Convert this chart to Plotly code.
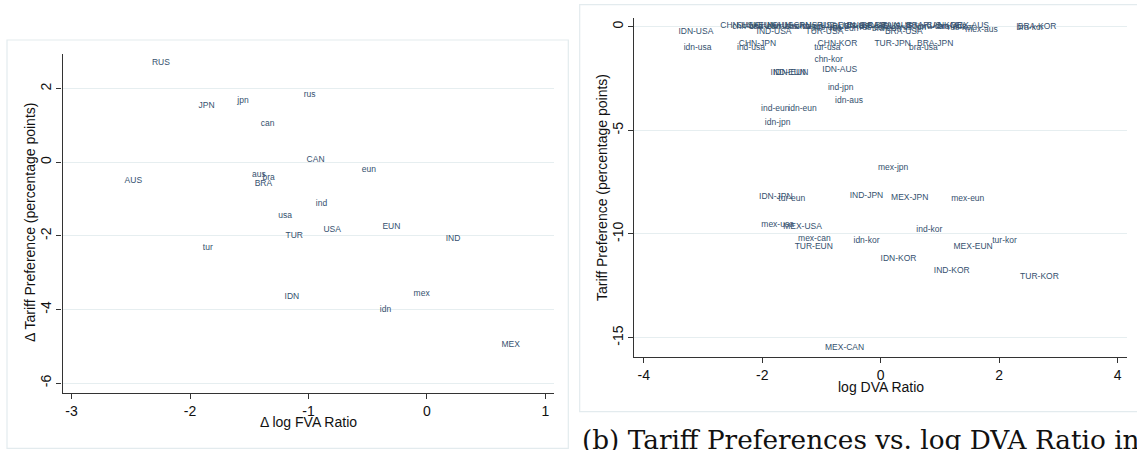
import plotly.graph_objects as go

# ---------------- Panel (a): Δ Tariff Preference vs Δ log FVA Ratio ----------------
a_labels = ["RUS", "JPN", "jpn", "can", "rus", "CAN", "eun", "AUS", "aus", "bra", "BRA",
            "ind", "usa", "EUN", "USA", "TUR", "IND", "tur", "IDN", "mex", "idn", "MEX"]
a_x = [-2.245, -1.86, -1.553, -1.344, -0.99, -0.94, -0.49, -2.478, -1.418, -1.336, -1.38,
       -0.89, -1.198, -0.30, -0.80, -1.12, 0.22, -1.85, -1.14, -0.045, -0.35, 0.706]
a_y = [2.70, 1.52, 1.67, 1.03, 1.82, 0.07, -0.21, -0.51, -0.35, -0.42, -0.58,
       -1.12, -1.46, -1.76, -1.85, -2.00, -2.08, -2.33, -3.66, -3.58, -4.01, -4.96]
a_xticks = [-3, -2, -1, 0, 1]
a_xticktext = ["-3", "-2", "-1", "0", "1"]
a_yticks = [-6, -4, -2, 0, 2]
a_yticktext = ["-6", "-4", "-2", "0", "2"]
a_xtitle = "Δ log FVA Ratio"
a_ytitle = "Δ Tariff Preference (percentage points)"

# ---------------- Panel (b): Tariff Preference vs log DVA Ratio ----------------
b_labels = [
    # crowded row at zero preference
    "CHN-USA", "chn-usa", "CHN-EUN", "chn-eun", "CHN-AUS", "chn-aus", "CHN-CAN", "chn-can",
    "chn-jpn", "RUS-USA", "rus-usa", "RUS-EUN", "rus-eun", "RUS-AUS", "rus-aus", "RUS-CAN",
    "rus-can", "BRA-EUN", "bra-eun", "BRA-AUS", "RUS-JPN", "rus-jpn", "BRA-CAN", "bra-can",
    "RUS-KOR", "bra-aus", "rus-kor", "MEX-AUS", "mex-aus", "bra-kor", "BRA-KOR",
    # remaining pairs
    "IDN-USA", "idn-usa", "IND-USA", "TUR-USA", "BRA-USA", "CHN-JPN", "ind-usa", "CHN-KOR",
    "tur-usa", "TUR-JPN", "BRA-JPN", "bra-usa", "chn-kor", "IND-EUN", "IDN-EUN", "IDN-AUS",
    "ind-jpn", "idn-aus", "ind-eun", "idn-eun", "idn-jpn",
    "mex-jpn", "IDN-JPN", "tur-eun", "IND-JPN", "MEX-JPN", "mex-eun", "mex-usa", "MEX-USA",
    "ind-kor", "mex-can", "TUR-EUN", "idn-kor", "MEX-EUN", "tur-kor", "IDN-KOR", "IND-KOR",
    "TUR-KOR", "MEX-CAN",
]
b_x = [
    -2.38, -2.25, -2.10, -1.95, -1.80, -1.65, -1.50, -1.35,
    -1.20, -1.05, -0.90, -0.75, -0.62, -0.50, -0.38, -0.25,
    -0.12, 0.00, 0.10, 0.22, 0.35, 0.55, 0.75, 0.90,
    1.05, 1.20, 1.35, 1.50, 1.70, 2.52, 2.64,
    -3.12, -3.09, -1.80, -0.95, 0.39, -2.08, -2.19, -0.73,
    -0.90, 0.20, 0.92, 0.72, -0.88, -1.56, -1.52, -0.69,
    -0.675, -0.535, -1.78, -1.32, -1.74,
    0.21, -1.77, -1.50, -0.24, 0.49, 1.47, -1.74, -1.32,
    0.82, -1.12, -1.13, -0.24, 1.56, 2.09, 0.30, 1.20,
    2.68, -0.61,
]
b_y = [
    0.02, 0.00, 0.03, -0.02, 0.02, 0.00, 0.03, -0.02,
    0.00, 0.02, -0.05, 0.02, -0.10, 0.00, 0.03, 0.02,
    -0.05, 0.02, -0.10, 0.02, 0.00, -0.05, 0.02, -0.02,
    0.02, 0.00, -0.05, 0.02, -0.13, -0.05, 0.00,
    -0.27, -1.04, -0.27, -0.27, -0.27, -0.82, -1.04, -0.82,
    -1.04, -0.82, -0.82, -1.04, -1.62, -2.22, -2.22, -2.09,
    -2.97, -3.58, -3.97, -3.97, -4.66,
    -6.82, -8.21, -8.33, -8.17, -8.26, -8.33, -9.57, -9.66,
    -9.79, -10.24, -10.63, -10.34, -10.63, -10.34, -11.19, -11.77,
    -12.06, -15.48,
]
b_xticks = [-4, -2, 0, 2, 4]
b_xticktext = ["-4", "-2", "0", "2", "4"]
b_yticks = [-15, -10, -5, 0]
b_yticktext = ["-15", "-10", "-5", "0"]
b_xtitle = "log DVA Ratio"
b_ytitle = "Tariff Preference (percentage points)"
b_caption = "(b) Tariff Preferences vs. log DVA Ratio in"

LABEL_COLOR = "#34506e"
GRID = "#e6eef0"
AXIS = "#333333"
W, H = 1137, 450

fig = go.Figure()
fig.add_trace(go.Scatter(x=a_x, y=a_y, text=a_labels, mode="text", textposition="middle center",
                         textfont=dict(family="Liberation Sans, Arial", size=8.5, color=LABEL_COLOR),
                         xaxis="x", yaxis="y", showlegend=False, hoverinfo="skip"))
fig.add_trace(go.Scatter(x=b_x, y=b_y, text=b_labels, mode="text", textposition="middle center",
                         textfont=dict(family="Liberation Sans, Arial", size=8.5, color=LABEL_COLOR),
                         xaxis="x2", yaxis="y2", showlegend=False, hoverinfo="skip"))

tickfont = dict(family="Liberation Sans, Arial", size=14, color="#111111")
titlefont = dict(family="Liberation Sans, Arial", size=14, color="#111111")

common_x = dict(showline=True, linecolor=AXIS, linewidth=1.3, ticks="outside", ticklen=5,
                tickcolor=AXIS, tickfont=tickfont, showgrid=False, zeroline=False, mirror=False)
common_y = dict(showline=True, linecolor=AXIS, linewidth=1.3, ticks="outside", ticklen=5,
                tickcolor=AXIS, tickfont=tickfont, showgrid=True, gridcolor=GRID, gridwidth=1,
                zeroline=False, tickangle=-90, mirror=False)


def title_ann(text, px, py, angle=0):
    return dict(text=text, xref="paper", yref="paper", x=px / W, y=1 - py / H,
                xanchor="center", yanchor="middle", showarrow=False, textangle=angle,
                font=titlefont)


fig.update_layout(
    width=W, height=H, autosize=False,
    margin=dict(l=0, r=0, t=0, b=0),
    paper_bgcolor="white", plot_bgcolor="white",
    xaxis=dict(common_x, domain=[62.5 / W, 554 / W], range=[-3.076, 1.072],
               tickvals=a_xticks, ticktext=a_xticktext, anchor="y"),
    yaxis=dict(common_y, domain=[1 - 392.7 / H, 1 - 54 / H], range=[-6.26, 2.94],
               tickvals=a_yticks, ticktext=a_yticktext, anchor="x"),
    xaxis2=dict(common_x, domain=[634.3 / W, 1126.7 / W], range=[-4.159, 4.152],
                tickvals=b_xticks, ticktext=b_xticktext, anchor="y2"),
    yaxis2=dict(common_y, domain=[1 - 356.7 / H, 1 - 18.3 / H], range=[-15.92, 0.405],
                tickvals=b_yticks, ticktext=b_yticktext, anchor="x2"),
    shapes=[
        dict(type="rect", xref="paper", yref="paper", x0=7 / W, x1=568.3 / W,
             y0=1 - 448.3 / H, y1=1 - 40 / H, line=dict(color="#e3ebee", width=1.2)),
        dict(type="rect", xref="paper", yref="paper", x0=579.7 / W, x1=1.02,
             y0=1 - 411.7 / H, y1=1 - 4.7 / H, line=dict(color="#e3ebee", width=1.2)),
    ],
    annotations=[
        title_ann(a_xtitle, 308, 422),
        title_ann(a_ytitle, 30, 223, -90),
        title_ann(b_xtitle, 880.5, 386.5),
        title_ann(b_ytitle, 601.5, 187.5, -90),
        dict(text=b_caption, xref="paper", yref="paper",
             x=580 / W, y=1 - 423 / H, xanchor="left", yanchor="top", showarrow=False,
             font=dict(family="DejaVu Serif, Liberation Serif", size=26.3, color="#111111")),
    ],
)

fig.write_html("out.html", config={"displayModeBar": False},
               post_script="document.body.style.margin='0';document.body.style.overflow='hidden';")
